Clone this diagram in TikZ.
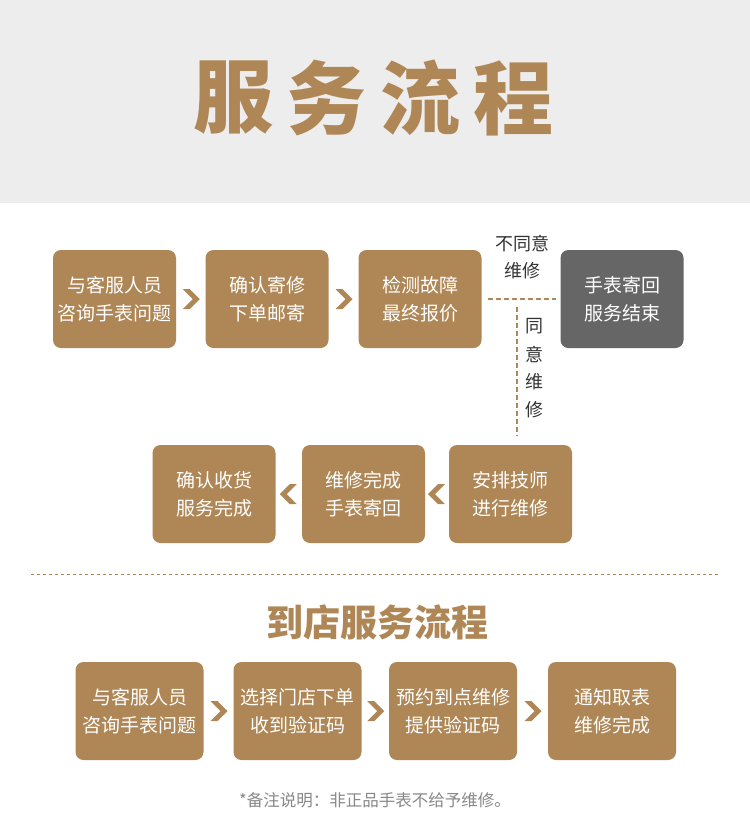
\documentclass[tikz,border=0pt]{standalone}
\usepackage{fontspec}
\setmainfont{Noto Sans CJK SC}
\usetikzlibrary{calc}
\definecolor{brn}{HTML}{AF8756}
\definecolor{bandgray}{HTML}{EDEDED}
\definecolor{endgray}{HTML}{666666}
\definecolor{txtdark}{HTML}{333333}
\definecolor{notegray}{HTML}{888888}
\tikzset{
  box/.style={fill=brn, rounded corners=8pt, minimum width=123pt, minimum height=98pt,
    text=white, font=\fontsize{19}{28}\selectfont, align=center, inner sep=0pt},
  wbox/.style={box, minimum width=128pt},
  endbox/.style={box, fill=endgray},
  titlechar/.style={text=brn, font=\fontsize{80}{80}\selectfont\bfseries, inner sep=0pt},
  subtitle/.style={text=brn, font=\fontsize{37}{37}\selectfont\bfseries, inner sep=0pt},
  lbl/.style={text=txtdark, font=\fontsize{18}{27}\selectfont, align=center, inner sep=0pt},
  note/.style={text=notegray, font=\fontsize{16.5}{20}\selectfont, inner sep=0pt},
  dashline/.style={draw=brn, line width=1.6pt, dash pattern=on 5pt off 3pt},
  sepline/.style={draw=brn, line width=1pt, dash pattern=on 3pt off 3pt},
  chevr/.pic={\fill[brn] (-8,-10) -- (-1,-10) -- (9,0) -- (-1,10) -- (-8,10) -- (2,0) -- cycle;},
  chevl/.pic={\fill[brn] (8,-10) -- (1,-10) -- (-9,0) -- (1,10) -- (8,10) -- (-2,0) -- cycle;}
}
\begin{document}
\begin{tikzpicture}[x=1pt,y=-1pt]
\useasboundingbox (0,0) rectangle (750,831);
\fill[white] (0,0) rectangle (750,831);
\fill[bandgray] (0,0) rectangle (750,203);
% title
\node[titlechar] (t1) at (233,98) {服};
\node[titlechar] (t2) at (326,98) {务};
\node[titlechar] (t3) at (420,98) {流};
\node[titlechar] (t4) at (513,98) {程};
% row 1
\node[box] (a1) at (114.5,299) {与客服人员\\咨询手表问题};
\node[box] (a2) at (267,299) {确认寄修\\下单邮寄};
\node[box] (a3) at (420,299) {检测故障\\最终报价};
\node[endbox] (a4) at (622,299) {手表寄回\\服务结束};
\path ($(a1.east)!0.5!(a2.west)$) pic {chevr};
\path ($(a2.east)!0.5!(a3.west)$) pic {chevr};
% row 2
\node[box] (b1) at (214,494) {确认收货\\服务完成};
\node[box] (b2) at (363.5,494) {维修完成\\手表寄回};
\node[box] (b3) at (510.5,494) {安排技师\\进行维修};
\path ($(b3.west)!0.5!(b2.east)$) pic {chevl};
\path ($(b2.west)!0.5!(b1.east)$) pic {chevl};
% branch
\coordinate (h1) at ([xshift=6pt]a3.east);
\coordinate (h2) at ([xshift=-4pt]a4.west);
\coordinate (v1) at (517,307);
\coordinate (v2) at (517,436);
\draw[dashline] (h1) -- (h2);
\draw[dashline] (v1) -- (v2);
\node[lbl] (no) at (522,257) {不同意\\维修};
\node[lbl] (y1) at (534,326) {同};
\node[lbl] (y2) at (534,354) {意};
\node[lbl] (y3) at (534,382) {维};
\node[lbl] (y4) at (534,410) {修};
% separator
\coordinate (s1) at (31,574);
\coordinate (s2) at (720,574);
\draw[sepline] (s1) -- (s2);
\node[subtitle] (st) at (377,622) {到店服务流程};
% row 3
\node[wbox] (c1) at (139.5,711) {与客服人员\\咨询手表问题};
\node[wbox] (c2) at (297.5,711) {选择门店下单\\收到验证码};
\node[wbox] (c3) at (453,711) {预约到点维修\\提供验证码};
\node[wbox] (c4) at (612,711) {通知取表\\维修完成};
\path ($(c1.east)!0.5!(c2.west)$) pic {chevr};
\path ($(c2.east)!0.5!(c3.west)$) pic {chevr};
\path ($(c3.east)!0.5!(c4.west)$) pic {chevr};
\node[note] (nt) at (375,800) {*备注说明：非正品手表不给予维修。};
\end{tikzpicture}
\end{document}
